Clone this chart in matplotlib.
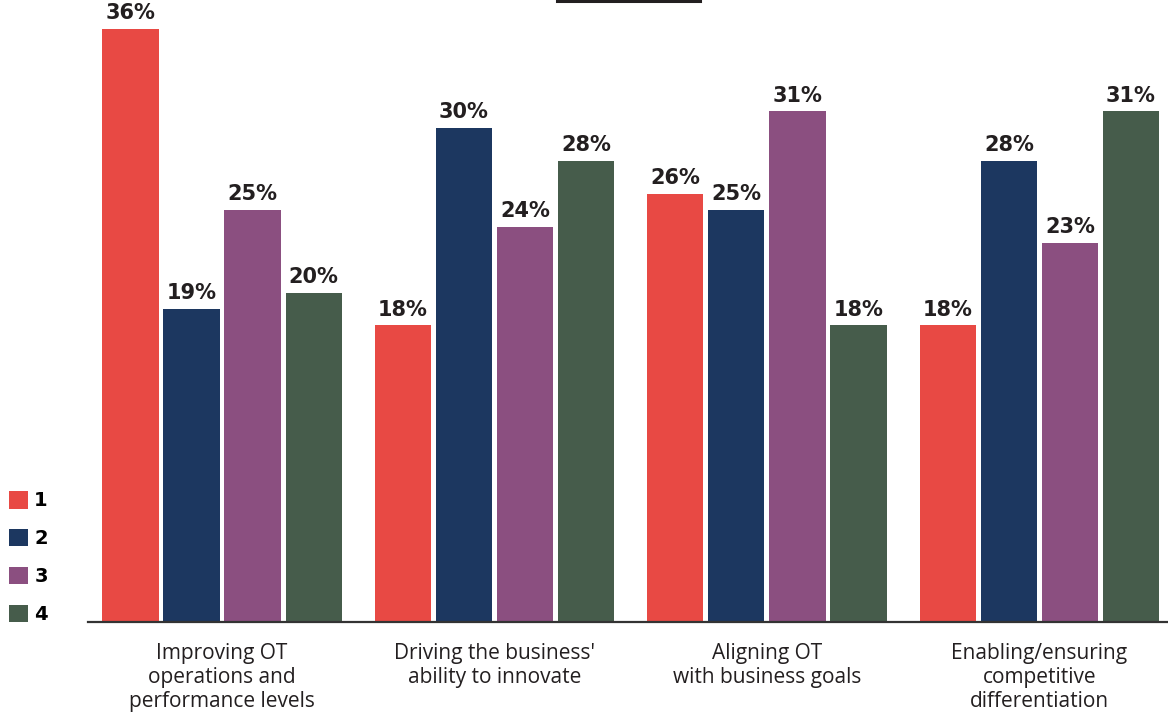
import matplotlib.pyplot as plt
import numpy as np
from matplotlib.patches import Patch
from matplotlib.lines import Line2D

categories = [
    "Improving OT\noperations and\nperformance levels",
    "Driving the business'\nability to innovate",
    "Aligning OT\nwith business goals",
    "Enabling/ensuring\ncompetitive\ndifferentiation",
]
series_names = ["1", "2", "3", "4"]
values = {
    "1": [36, 18, 26, 18],
    "2": [19, 30, 25, 28],
    "3": [25, 24, 31, 23],
    "4": [20, 28, 18, 31],
}
colors = ["#E84944", "#1C3760", "#8B4F80", "#465C4B"]

W, H = 1168, 714
fig = plt.figure(figsize=(W / 100, H / 100), dpi=100)
ax = fig.add_axes([88 / W, (H - 622) / H, 1 - 88 / W, 622 / H])

x = np.arange(len(categories))
pitch = 0.224
width = 0.206
for i, name in enumerate(series_names):
    pos = x + (i - 1.5) * pitch
    bars = ax.bar(pos, values[name], width, color=colors[i])
    for rect, v in zip(bars, values[name]):
        ax.text(rect.get_x() + rect.get_width() / 2, v + 0.35, f"{v}%",
                ha="center", va="bottom", fontsize=15, fontweight="bold",
                color="#231F20", family="DejaVu Sans")

ax.set_xlim(-0.492, 3.472)
ax.set_ylim(0, 37.76)
for s in ["top", "right", "left"]:
    ax.spines[s].set_visible(False)
ax.spines["bottom"].set_color("#333333")
ax.spines["bottom"].set_linewidth(1.6)
ax.set_yticks([])
ax.set_xticks(x)
ax.set_xticklabels(categories, fontsize=15, color="#231F20", family="Open Sans",
                   linespacing=1.2)
ax.tick_params(axis="x", length=0, pad=15)

handles = [Patch(facecolor=c, edgecolor="none") for c in colors]
fig.legend(handles, series_names, loc="lower left",
           bbox_to_anchor=(9 / W, (H - 624) / H), frameon=False,
           handlelength=1.0, handleheight=1.0,
           handletextpad=0.3, labelspacing=0.95, borderpad=0,
           borderaxespad=0, prop={"weight": "bold", "size": 14})

# short rule across the top
fig.add_artist(Line2D([557 / W, 700 / W], [1 - 1.2 / H, 1 - 1.2 / H],
                      color="#231F20", linewidth=2.2))

fig.savefig("out.png", dpi=100)
